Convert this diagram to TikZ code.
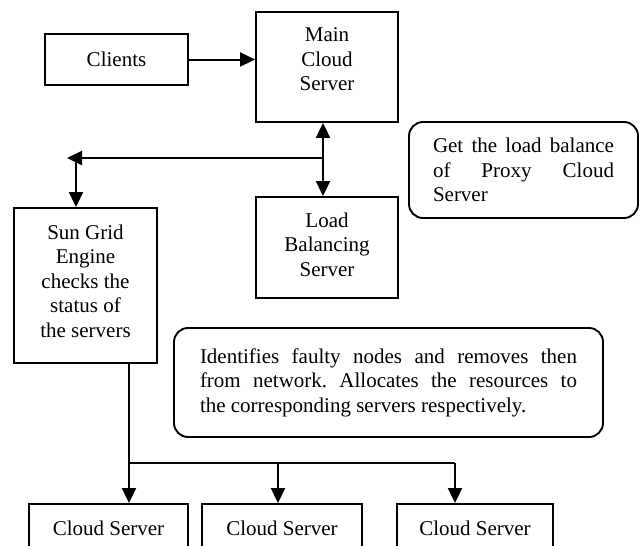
\documentclass[tikz,border=0pt]{standalone}
\usepackage{fontspec}
\setmainfont{Liberation Serif}
\usetikzlibrary{arrows.meta}
\frenchspacing
\tikzset{
  box/.style={draw, line width=1.9pt, inner sep=0pt, align=center},
  roundbox/.style={draw, line width=1.9pt, rounded corners=14pt, inner sep=0pt, align=justify},
  conn/.style={line width=2pt},
  arr/.style={conn, -{Triangle[length=15pt,width=14pt]}},
  darr/.style={conn, {Triangle[length=15pt,width=14pt]}-{Triangle[length=15pt,width=14pt]}}
}
\begin{document}
\begin{tikzpicture}[x=1pt, y=-1pt, font=\fontsize{21}{24.5}\selectfont]
\clip (0,0) rectangle (640,546);
\fill[white] (0,0) rectangle (640,546);

\node[box, minimum width=143pt, minimum height=51pt] (clients) at (116.5,59.5) {Clients};
\node[box, minimum width=142pt, minimum height=110pt, text depth=15pt] (main) at (327,67) {Main\\Cloud\\Server};
\node[box, minimum width=142pt, minimum height=101pt, text depth=6pt] (lb) at (327,247.5) {Load\\Balancing\\Server};
\node[roundbox, minimum width=229pt, minimum height=96pt, text width=181pt] (getlb) at (523.5,170)
  {Get the load balance\linebreak of Proxy Cloud\linebreak Server};
\node[box, minimum width=143pt, minimum height=155pt, text depth=9pt] (sun) at (85.5,285.5)
  {Sun Grid\\Engine\\checks the\\status of\\the servers};
\node[roundbox, minimum width=429pt, minimum height=109pt, text width=377pt] (ident) at (388.5,382.5)
  {Identifies faulty nodes and removes then\linebreak from network. Allocates the resources to\linebreak the corresponding servers respectively.};
\node[box, minimum width=159pt, minimum height=48pt] (cs1) at (108.5,528) {Cloud Server};
\node[box, minimum width=160pt, minimum height=48pt] (cs2) at (282,528) {Cloud Server};
\node[box, minimum width=156pt, minimum height=48pt] (cs3) at (475,528) {Cloud Server};

% connectors
\draw[arr] (clients.east) -- (clients.east -| main.west);
\coordinate (jn) at (323,158);
\draw[darr] (jn |- main.south) -- (jn |- lb.north);
\coordinate (lt) at (67,158);
\draw[arr] (jn) -- (lt);
\coordinate (ld) at (76,158);
\draw[arr] (ld) -- (ld |- sun.north);
\coordinate (sb) at (129,463);
\coordinate (m2) at (278,463);
\coordinate (br) at (455,463);
\draw[conn] (sun.south -| sb) -- (sb) -- (br);
\draw[arr] (sb) -- (sb |- cs1.north);
\draw[arr] (m2) -- (m2 |- cs2.north);
\draw[arr] (br) -- (br |- cs3.north);
\end{tikzpicture}
\end{document}
